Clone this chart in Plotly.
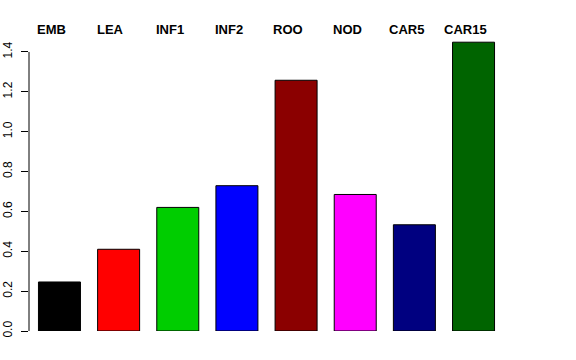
import plotly.graph_objects as go

categories = ["EMB", "LEA", "INF1", "INF2", "ROO", "NOD", "CAR5", "CAR15"]
values = [0.246, 0.410, 0.620, 0.729, 1.258, 0.685, 0.533, 1.449]
colors = ["#000000", "#FF0000", "#00CD00", "#0000FF", "#8B0000", "#FF00FF", "#000080", "#006400"]
y_ticks = [0.0, 0.2, 0.4, 0.6, 0.8, 1.0, 1.2, 1.4]

xs = list(range(len(categories)))

fig = go.Figure()
fig.add_trace(go.Bar(
    x=xs, y=values,
    marker=dict(color=colors, line=dict(color="black", width=1)),
    hoverinfo="skip",
))

for i, c in enumerate(categories):
    fig.add_annotation(x=i, y=1, xref="x", yref="paper", yanchor="middle",
                       yshift=10.5, xshift=-8, text="<b>%s</b>" % c, showarrow=False,
                       font=dict(size=13, color="black", family="Liberation Sans, Arial, sans-serif"))

fig.add_shape(type="line", xref="paper", yref="y", x0=0, x1=0, y0=y_ticks[0], y1=y_ticks[-1],
              line=dict(color="black", width=1))

fig.update_layout(
    width=576, height=360,
    margin=dict(l=29, r=72, t=40, b=29, pad=0),
    paper_bgcolor="white", plot_bgcolor="white",
    showlegend=False,
    bargap=0.29,
    font=dict(family="Liberation Sans, Arial, sans-serif", color="black"),
    xaxis=dict(range=[-0.515, 7.515], showticklabels=False, showgrid=False,
               zeroline=False, showline=False, ticks="", automargin=False),
    yaxis=dict(range=[0, 1.46], tickvals=y_ticks, ticktext=["%.1f" % v for v in y_ticks],
               tickangle=-90, ticks="outside", ticklen=7, tickcolor="black", tickwidth=1,
               showgrid=False, zeroline=False, showline=False, automargin=False,
               tickfont=dict(size=12, color="black"), ticklabelstandoff=4),
)

fig.write_html("out.html", config={"displayModeBar": False, "staticPlot": True},
               post_script="document.body.style.margin='0px';")
